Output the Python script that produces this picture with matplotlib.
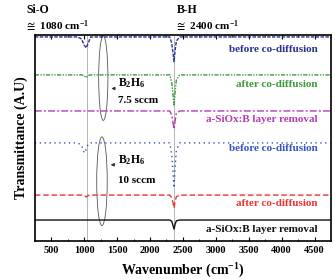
import matplotlib.pyplot as plt
from matplotlib.patches import Ellipse
from matplotlib.ticker import MultipleLocator

plt.rcParams['font.family'] = ['Liberation Serif', 'DejaVu Serif']
plt.rcParams['font.weight'] = 'bold'
plt.rcParams['mathtext.fontset'] = 'custom'
plt.rcParams['mathtext.rm'] = 'Liberation Serif:bold'
plt.rcParams['mathtext.it'] = 'Liberation Serif:bold'
plt.rcParams['mathtext.bf'] = 'Liberation Serif:bold'

# wavenumber grid (cm-1) shared by all spectra
wn = [250, 900, 960, 1000, 1030, 1060, 1100, 1500, 2000, 2300, 2330, 2350, 2365, 2380, 2400, 2450, 4750]

# offset transmittance curves (A.U.), top to bottom
t_before_75 = [99.0, 99.0, 98.0, 95.0, 93.7, 96.0, 99.0, 99.0, 99.0, 99.0, 96.0, 91.0, 87.0, 92.0, 97.0, 99.0, 99.0]
t_after_75 = [80.6, 80.6, 80.6, 80.2, 79.2, 80.3, 80.6, 80.6, 80.6, 80.6, 77.0, 71.0, 66.0, 72.0, 78.0, 80.6, 80.6]
t_removal_75 = [63.1, 63.1, 63.1, 63.1, 63.1, 63.1, 63.1, 63.1, 63.1, 63.1, 61.0, 57.5, 54.4, 58.0, 62.0, 63.1, 63.1]
t_before_10 = [47.6, 47.6, 46.5, 42.7, 44.5, 47.0, 47.6, 47.6, 47.6, 47.6, 42.0, 33.0, 25.7, 35.0, 44.0, 47.6, 47.6]
t_after_10 = [22.3, 22.3, 22.3, 22.0, 21.4, 22.1, 22.3, 22.3, 22.3, 22.3, 21.0, 18.5, 16.0, 19.0, 21.5, 22.3, 22.3]
t_removal_10 = [10.2, 10.2, 10.2, 10.2, 10.2, 10.2, 10.2, 10.2, 10.2, 10.2, 9.6, 7.5, 5.8, 8.0, 9.8, 10.2, 10.2]

labels = ['before co-diffusion', 'after co-diffusion', 'a-SiOx:B layer removal',
          'before co-diffusion', 'after co-diffusion', 'a-SiOx:B layer removal']
series = [t_before_75, t_after_75, t_removal_75, t_before_10, t_after_10, t_removal_10]
colors = ['#27348b', '#3c9a3c', '#b33cb3', '#3552c4', '#ee3333', '#111111']
styles = [(0, (2.5, 1)), (0, (3, 1, 1, 1, 1, 1)), (0, (5, 1.5, 1.5, 1.5)), (0, (1, 2.5)), (0, (4, 2)), '-']
label_y = [93.0, 76.0, 59.0, 45.0, 18.0, 5.5]

fig = plt.figure(figsize=(3.35, 2.79), dpi=100)
ax = fig.add_axes([0.104, 0.136, 0.884, 0.739])

ax.axvline(1040, color='#aaaaaa', lw=0.6)
ax.axvline(2370, color='#aaaaaa', lw=0.6)

for y, c, ls, lab, ly in zip(series, colors, styles, labels, label_y):
    ax.plot(wn, y, color=c, ls=ls, lw=1.0)
    ax.text(4550, ly, lab, color=c, fontsize=8, fontweight='bold', ha='right', va='center')

# ellipses grouping the two B2H6 flows
ax.add_patch(Ellipse((1290, 79), 140, 41, fill=False, ec='#555555', lw=0.6))
ax.add_patch(Ellipse((1270, 29), 160, 43, fill=False, ec='#555555', lw=0.6))
ax.annotate('', xy=(1370, 74), xytext=(1510, 74),
            arrowprops=dict(arrowstyle='-|>', color='#333333', lw=0.6, mutation_scale=5))
ax.annotate('', xy=(1360, 37), xytext=(1510, 37),
            arrowprops=dict(arrowstyle='-|>', color='#333333', lw=0.6, mutation_scale=5))
ax.text(1520, 76.5, r'B$_2$H$_6$', fontsize=8.5, fontweight='bold', va='center')
ax.text(1520, 68.0, '7.5 sccm', fontsize=8, fontweight='bold', va='center')
ax.text(1520, 39.5, r'B$_2$H$_6$', fontsize=8.5, fontweight='bold', va='center')
ax.text(1520, 29.5, '10 sccm', fontsize=8, fontweight='bold', va='center')

ax.set_xlim(250, 4750)
ax.set_ylim(0, 100)
ax.xaxis.set_major_locator(MultipleLocator(500))
ax.xaxis.set_minor_locator(MultipleLocator(250))
ax.set_xticks([500, 1000, 1500, 2000, 2500, 3000, 3500, 4000, 4500])
ax.tick_params(axis='x', direction='in', top=True, labelsize=7.5, length=3, width=0.8)
ax.tick_params(axis='x', which='minor', direction='in', top=True, length=1.5)
ax.set_yticks([])
for sp in ax.spines.values():
    sp.set_linewidth(1.2)

ax.set_xlabel('Wavenumber (cm$^{-1}$)', fontsize=10, fontweight='bold', labelpad=5)
ax.set_ylabel('Transmittance (A.U)', fontsize=10, fontweight='bold', labelpad=5)

fig.text(0.078, 0.965, 'Si-O', fontsize=8.5, fontweight='bold', va='center')
fig.text(0.075, 0.905, r'$\cong$ 1080 cm$^{-1}$', fontsize=8, fontweight='bold', va='center')
fig.text(0.528, 0.965, 'B-H', fontsize=8.5, fontweight='bold', va='center')
fig.text(0.522, 0.905, r'$\cong$ 2400 cm$^{-1}$', fontsize=8, fontweight='bold', va='center')

fig.savefig('out.png', dpi=100)
